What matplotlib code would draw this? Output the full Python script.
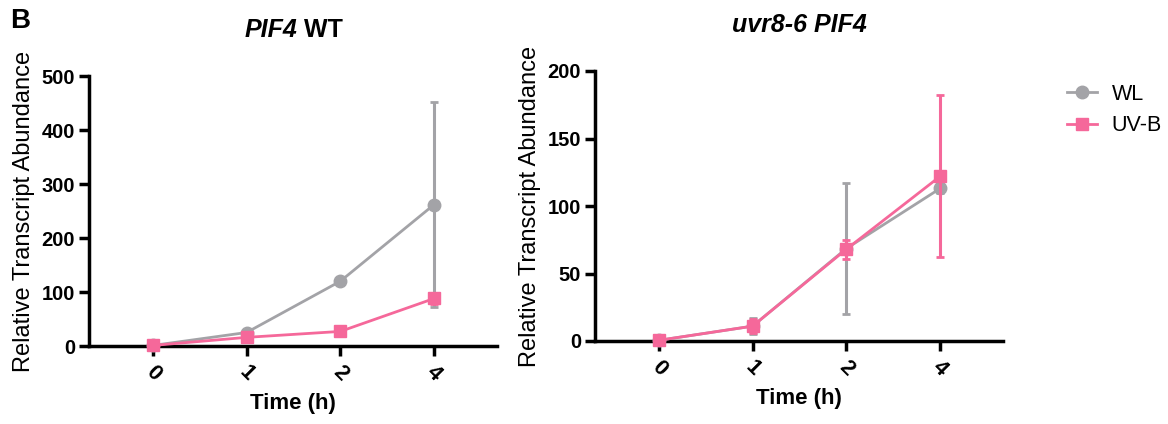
import matplotlib
matplotlib.use("Agg")
import matplotlib.pyplot as plt
from matplotlib.lines import Line2D

plt.rcParams['font.family'] = ['Liberation Sans', 'DejaVu Sans']

times = ["0", "1", "2", "4"]
series = ["WL", "UV-B"]

wt_wl = [1, 25, 120, 262]
wt_wl_err = [1, 3, 5, 190]
wt_uvb = [1, 16, 27, 88]
wt_uvb_err = [1, 3, 5, 10]

uvr_wl = [0.5, 11, 68.5, 113]
uvr_wl_err = [0.5, 6, 48.5, 3]
uvr_uvb = [0.5, 11, 68, 122]
uvr_uvb_err = [0.5, 5, 7, 60]

GRAY = '#a3a3a7'
PINK = '#f5689a'

fig = plt.figure(figsize=(11.68, 4.24), dpi=100)
W, H = 1168, 424

def make_ax(x0, x1, ybot, ytop):
    return fig.add_axes([x0 / W, 1 - ybot / H, (x1 - x0) / W, (ybot - ytop) / H])

axL = make_ax(89, 497, 346, 76)
axR = make_ax(595, 1003, 341, 71)

def draw(ax, wl, wl_e, uvb, uvb_e, ymax, step):
    x = list(range(len(times)))
    ax.errorbar(x, wl, yerr=wl_e, color=GRAY, marker='o', ms=9, lw=2,
                elinewidth=2.2, capsize=3, capthick=2, zorder=3, clip_on=False)
    ax.errorbar(x, uvb, yerr=uvb_e, color=PINK, marker='s', ms=9, lw=2,
                elinewidth=2.2, capsize=3, capthick=2, zorder=4, clip_on=False)
    ax.set_xlim(-0.68, 3.67)
    ax.set_ylim(0, ymax)
    ax.set_yticks(range(0, ymax + 1, step))
    ax.set_xticks(x)
    ax.set_xticklabels(times, rotation=-45, ha='center', va='top')
    for s in ['top', 'right']:
        ax.spines[s].set_visible(False)
    for s in ['left', 'bottom']:
        ax.spines[s].set_linewidth(2.5)
    ax.tick_params(width=2.5, length=7, labelsize=14.5, pad=3)
    ax.tick_params(axis='x', labelsize=15.5, pad=4)
    for lab in ax.get_xticklabels() + ax.get_yticklabels():
        lab.set_fontweight('bold')
    ax.set_ylabel('Relative Transcript Abundance', fontsize=17, labelpad=5)
    ax.set_xlabel('Time (h)', fontsize=16, fontweight='bold', labelpad=6)

draw(axL, wt_wl, wt_wl_err, wt_uvb, wt_uvb_err, 500, 100)
draw(axR, uvr_wl, uvr_wl_err, uvr_uvb, uvr_uvb_err, 200, 50)

# left title: italic "PIF4" + bold " WT", centred as a whole
renderer = fig.canvas.get_renderer()
t1 = fig.text(0, 1 - 30 / H, 'PIF4', ha='left', va='center', fontsize=18,
              fontweight='bold', style='italic')
t2 = fig.text(0, 1 - 30 / H, '\u00a0WT', ha='left', va='center', fontsize=18,
              fontweight='bold')
w1 = t1.get_window_extent(renderer).width
w2 = t2.get_window_extent(renderer).width
start = 294 - (w1 + w2) / 2
t1.set_x(start / W)
t2.set_x((start + w1) / W)

fig.text(799 / W, 1 - 25 / H, 'uvr8-6 PIF4', ha='center', va='center',
         fontsize=18, fontweight='bold', style='italic')
fig.text(10 / W, 1 - 21 / H, 'B', ha='left', va='center', fontsize=20, fontweight='bold')

handles = [Line2D([], [], color=GRAY, marker='o', ms=9, lw=2),
           Line2D([], [], color=PINK, marker='s', ms=9, lw=2)]
fig.legend(handles, series, loc='upper left', bbox_to_anchor=(1058 / W, 1 - 75 / H),
           frameon=False, fontsize=15.5, handlelength=1.4, labelspacing=0.5,
           handletextpad=0.7, borderaxespad=0)

fig.savefig('out.png', dpi=100)
